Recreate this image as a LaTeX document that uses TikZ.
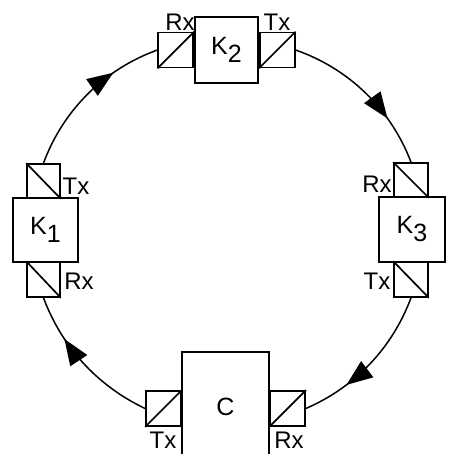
\documentclass[tikz,border=0pt]{standalone}
\usepackage{fontspec}
\setmainfont{Liberation Sans}
\usetikzlibrary{arrows.meta,decorations.markings}
\begin{document}
\begin{tikzpicture}[x=1pt,y=1pt,
  unitbox/.style={draw,line width=1.7pt,inner sep=0pt,font=\fontsize{25}{25}\selectfont},
  portbox/.style={draw,line width=1.7pt,inner sep=0pt,minimum width=35pt,minimum height=35pt},
  lbl/.style={font=\fontsize{24}{24}\selectfont,inner sep=0pt},
  diag/.style={line width=1.7pt},
  ring/.style={line width=1.5pt,looseness=0.9,postaction={decorate},
    decoration={markings,mark=at position 0.7 with {\arrow{Triangle[length=26pt,width=20pt]}}}}]
\useasboundingbox (0,0) rectangle (448,-454);
% units
\node[unitbox,minimum width=63pt,minimum height=66pt] (k2) at (226.5,-50) {K\raisebox{-8pt}{2}};
\node[unitbox,minimum width=65pt,minimum height=64pt] (k1) at (45.5,-230) {K\raisebox{-8pt}{1}};
\node[unitbox,minimum width=66pt,minimum height=65pt] (k3) at (412,-229.5) {K\raisebox{-8pt}{3}};
\node[inner sep=0pt,minimum width=87pt,minimum height=110pt,font=\fontsize{25}{25}\selectfont] (c) at (225.5,-407) {C};
\draw[diag] (c.south west) -- (c.north west) -- (c.north east) -- (c.south east);
% ports
\node[portbox,anchor=east] (k2rx) at (k2.west) {};
\node[portbox,anchor=west] (k2tx) at (k2.east) {};
\node[portbox,minimum width=33pt,minimum height=34pt] (k1tx) at (43.5,-181) {};
\node[portbox,minimum width=33pt,minimum height=35pt] (k1rx) at (43.5,-279.5) {};
\node[portbox,minimum width=34pt,minimum height=34pt] (k3rx) at (411,-180) {};
\node[portbox,minimum width=34pt,minimum height=35pt] (k3tx) at (411,-279.5) {};
\node[portbox,anchor=east] (ctx) at (c.west |- 0,-408.5) {};
\node[portbox,anchor=west] (crx) at (c.east |- 0,-408.5) {};
% diagonals
\draw[diag] (k2rx.south west) -- (k2rx.north east);
\draw[diag] (k2tx.south west) -- (k2tx.north east);
\draw[diag] (ctx.south west) -- (ctx.north east);
\draw[diag] (crx.south west) -- (crx.north east);
\draw[diag] (k1tx.north west) -- (k1tx.south east);
\draw[diag] (k1rx.north west) -- (k1rx.south east);
\draw[diag] (k3rx.north west) -- (k3rx.south east);
\draw[diag] (k3tx.north west) -- (k3tx.south east);
% ring connectors
\draw[ring] (ctx.west) to[bend left=22] (k1rx.south);
\draw[ring] (k1tx.north) to[bend left=25] (k2rx.west);
\draw[ring] (k2tx.east) to[bend left=25] (k3rx.north);
\draw[ring] (k3tx.south) to[bend left=23] (crx.east);
% labels
\node[lbl] at (180,-22) {Rx};
\node[lbl] at (277,-22) {Tx};
\node[lbl] at (76,-186) {Tx};
\node[lbl] at (79,-281) {Rx};
\node[lbl] at (377,-184) {Rx};
\node[lbl] at (377,-281) {Tx};
\node[lbl] at (163,-440) {Tx};
\node[lbl] at (289,-440) {Rx};
\end{tikzpicture}
\end{document}
